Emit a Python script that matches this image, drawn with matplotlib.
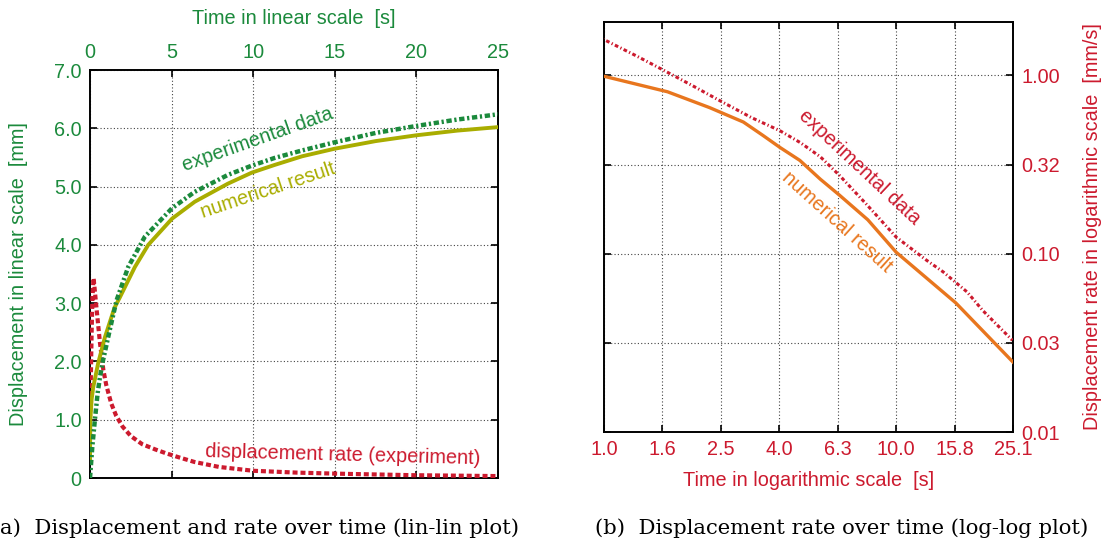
import numpy as np
import matplotlib
matplotlib.use("Agg")
import matplotlib.pyplot as plt
from matplotlib.ticker import FixedLocator, NullLocator

# ---------------- data ----------------
# displacement over time (lin-lin) [s], [mm]
disp_exp_t = [0, 0.14, 0.3, 0.47, 0.61, 0.8, 1.22, 1.63, 2.34, 3.36, 5.03, 6.42, 8.45,
              9.92, 11.3, 13.0, 15.0, 17.5, 20.0, 22.5, 25.0]
disp_exp_v = [0, 0.53, 1.0, 1.46, 1.73, 2.02, 2.55, 3.05, 3.62, 4.14, 4.63, 4.91, 5.20,
              5.36, 5.49, 5.62, 5.76, 5.92, 6.04, 6.15, 6.24]

disp_num_t = [0, 0.02, 0.1, 0.2, 0.5, 0.92, 1.5, 1.83, 2.75, 3.57, 5.03, 6.42, 8.45,
              9.92, 11.3, 13.0, 15.0, 17.5, 20.0, 22.5, 25.0]
disp_num_v = [0.3, 1.0, 1.35, 1.56, 1.97, 2.42, 2.92, 3.1, 3.62, 4.0, 4.45, 4.74, 5.05,
              5.24, 5.37, 5.52, 5.65, 5.78, 5.88, 5.96, 6.02]

# displacement rate, experiment [mm/s]
rate_exp_t = [0, 0.05, 0.1, 0.15, 0.22, 0.3, 0.41, 0.61, 0.82, 1.0, 1.3, 1.6, 2.0, 2.5,
              3.2, 4.0, 4.7, 5.5, 6.4, 7.9, 10.0, 12.7, 14.5, 16.0, 17.5, 19.8, 25.0]
rate_exp_v = [1.0, 1.7, 2.5, 3.1, 3.43, 3.2, 2.88, 2.32, 1.85, 1.59, 1.28, 1.07, 0.88, 0.72,
              0.58, 0.49, 0.42, 0.35, 0.275, 0.19, 0.124, 0.092, 0.079, 0.069, 0.061, 0.048, 0.0327]

# displacement rate, numerical [mm/s]
rate_num_t = [1.0, 1.65, 2.3, 3.0, 3.5, 4.0, 4.68, 5.5, 6.4, 8.0, 10.0, 16.0, 25.1]
rate_num_v = [0.99, 0.81, 0.66, 0.548, 0.461, 0.395, 0.334, 0.262, 0.213, 0.155, 0.102,
              0.053, 0.0247]

lin_xticks = [0, 5, 10, 15, 20, 25]
lin_yticks = [0, 1, 2, 3, 4, 5, 6, 7]
lin_ylabels = ["0", "1.0", "2.0", "3.0", "4.0", "5.0", "6.0", "7.0"]
log_xexp = [0, 0.2, 0.4, 0.6, 0.8, 1.0, 1.2, 1.4]
log_yexp = [-2, -1.5, -1, -0.5, 0]

# ---------------- style ----------------
GREEN = "#1b8a3c"
OLIVE = "#a9ad00"
RED = "#cc1a2e"
ORANGE = "#e8761e"
SANS = "Liberation Sans"
SERIF = "DejaVu Serif"
FS = 14.3

W, H = 1104, 545
fig = plt.figure(figsize=(W / 100, H / 100), dpi=100)


def px_axes(x0, x1, y0, y1):
    return fig.add_axes([x0 / W, 1 - y1 / H, (x1 - x0) / W, (y1 - y0) / H])


def frame(ax):
    for s in ax.spines.values():
        s.set_linewidth(1.4)
        s.set_color("black")
    ax.grid(True, which="major", color="#444444", linestyle=(0, (1, 2)), linewidth=0.8)
    ax.tick_params(which="major", direction="in", length=5, width=1.2,
                   top=True, bottom=True, left=True, right=True, labelsize=FS, pad=6)


# ---------- (a) lin-lin ----------
ax1 = px_axes(90, 498, 70, 478)
frame(ax1)
ax1.set_xlim(0, 25)
ax1.set_ylim(0, 7)
ax1.xaxis.set_major_locator(FixedLocator(lin_xticks))
ax1.yaxis.set_major_locator(FixedLocator(lin_yticks))
ax1.set_yticklabels(lin_ylabels, family=SANS, color=GREEN)
ax1.set_xticklabels([str(v) for v in lin_xticks], family=SANS, color=GREEN)
ax1.tick_params(axis="x", labeltop=True, labelbottom=False)

ax1.plot(rate_exp_t, rate_exp_v, color=RED, lw=3.0, linestyle=(0, (1.2, 0.7)),
         dash_capstyle="butt", zorder=3)
ax1.plot(disp_num_t, disp_num_v, color=OLIVE, lw=2.8, zorder=4)
ax1.plot(disp_exp_t, disp_exp_v, color=GREEN, lw=3.2, linestyle=(0, (1.2, 0.6, 0.5, 0.6)),
         dash_capstyle="butt", zorder=5)

ax1.text(10.27, 5.80, "experimental data", color=GREEN, family=SANS, fontsize=FS,
         rotation=19.5, ha="center", va="center", rotation_mode="anchor")
ax1.text(10.9, 4.94, "numerical result", color=OLIVE, family=SANS, fontsize=FS,
         rotation=18.5, ha="center", va="center", rotation_mode="anchor")
ax1.text(15.5, 0.40, "displacement rate (experiment)", color=RED, family=SANS, fontsize=FS,
         rotation=-1.5, ha="center", va="center", rotation_mode="anchor")

fig.text(294 / W, 1 - 19 / H, "Time in linear scale  [s]", color=GREEN, family=SANS,
         fontsize=FS, ha="center", va="center")
fig.text(19 / W, 1 - 274 / H, "Displacement in linear scale  [mm]", color=GREEN, family=SANS,
         fontsize=FS, ha="center", va="center", rotation=90)

# ---------- (b) log-log ----------
ax2 = px_axes(604, 1013, 22, 432)
ax2.set_xscale("log")
ax2.set_yscale("log")
frame(ax2)
ax2.set_xlim(1.0, 10 ** 1.4)
ax2.set_ylim(0.01, 10 ** 0.3)
xt = [10 ** e for e in log_xexp]
yt = [10 ** e for e in log_yexp]
ax2.xaxis.set_major_locator(FixedLocator(xt))
ax2.yaxis.set_major_locator(FixedLocator(yt))
ax2.xaxis.set_minor_locator(NullLocator())
ax2.yaxis.set_minor_locator(NullLocator())
ax2.set_xticklabels([f"{v:.1f}" for v in xt], family=SANS, color=RED)
ax2.set_yticklabels([f"{v:.2f}" for v in yt], family=SANS, color=RED)
ax2.tick_params(axis="y", labelleft=False, labelright=True)

ax2.plot(rate_num_t, rate_num_v, color=ORANGE, lw=2.4, zorder=4)
ax2.plot(rate_exp_t[1:], rate_exp_v[1:], color=RED, lw=2.2, linestyle=(0, (1.2, 0.8, 0.4, 0.8)),
         dash_capstyle="butt", zorder=5)

ax2.text(7.5, 0.305, "experimental data", color=RED, family=SANS, fontsize=FS,
         rotation=-43, ha="center", va="center", rotation_mode="anchor")
ax2.text(6.26, 0.15, "numerical result", color=ORANGE, family=SANS, fontsize=FS,
         rotation=-42, ha="center", va="center", rotation_mode="anchor")

fig.text(809 / W, 1 - 480 / H, "Time in logarithmic scale  [s]", color=RED, family=SANS,
         fontsize=FS, ha="center", va="center")
fig.text(1093 / W, 1 - 227 / H, "Displacement rate in logarithmic scale  [mm/s]", color=RED,
         family=SANS, fontsize=FS, ha="center", va="center", rotation=90)

# ---------- captions ----------
fig.text(0 / W, 1 - 528 / H, "a)  Displacement and rate over time (lin-lin plot)",
         family=SERIF, fontsize=15.2, ha="left", va="center")
fig.text(595 / W, 1 - 528 / H, "(b)  Displacement rate over time (log-log plot)",
         family=SERIF, fontsize=15.2, ha="left", va="center")

fig.savefig("out.png", dpi=100)
